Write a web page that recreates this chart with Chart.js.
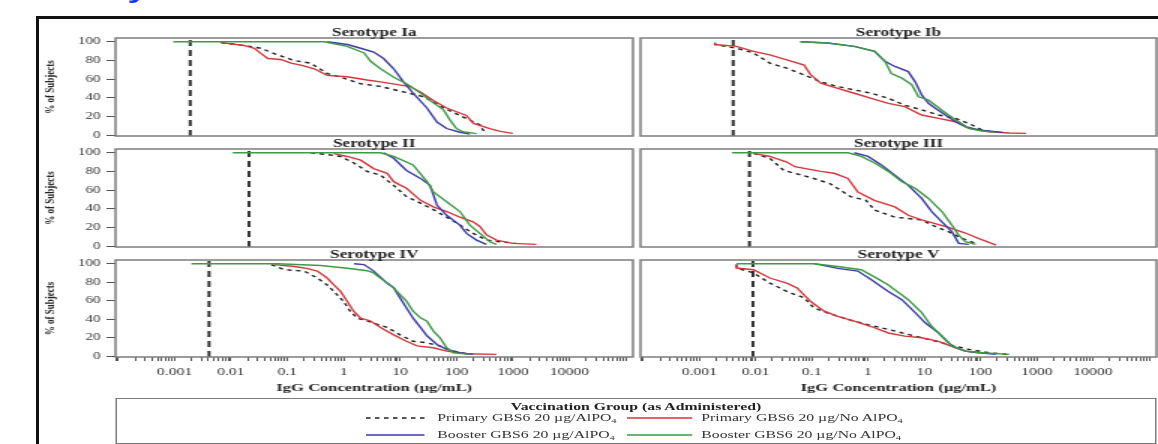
<!DOCTYPE html>
<html lang="en">
<head>
<meta charset="utf-8">
<title>Reverse cumulative distribution of IgG concentrations by serotype</title>
<script src="https://cdn.jsdelivr.net/npm/chart.js@4.4.1/dist/chart.umd.min.js"></script>
<style>
  html, body { margin: 0; padding: 0; background: #fff; }
  body { width: 1158px; height: 444px; overflow: hidden; position: relative; }
  /* the source figure is stretched sideways: lay out at 772px and widen 1.5x */
  #stage { position: absolute; left: 0; top: 0; width: 772px; height: 444px;
           transform: scaleX(1.5); transform-origin: 0 0;
           font-family: 'Liberation Serif', 'Times New Roman', serif; color: #222; }
  #cut { position: absolute; left: 85px; top: -22px; font: bold 24px/24px 'Liberation Sans', Arial, sans-serif;
         color: #1a33ff; }
  #frame { position: absolute; left: 24px; top: 16px; width: 800px; height: 500px;
           border-top: 3px solid #111; border-left: 2.5px solid #111; }
  #stage canvas { position: absolute; }
  #legend { position: absolute; left: 77px; top: 398px; width: 694px; height: 46px;
            border: 1.5px solid #7a7a7a; box-sizing: border-box; font-size: 10.5px; line-height: 12px; }
  #legend .ttl { position: absolute; left: 0; right: 0; text-align: center; font-weight: bold; }
  #legend .item { position: absolute; white-space: nowrap; color: #333; }
  #legend svg { position: absolute; overflow: visible; }
  #legend sub { font-size: 7px; line-height: 0; vertical-align: -2px; }
</style>
</head>
<body>
<div id="stage">
  <div id="cut">y</div>
  <div id="frame"></div>
  <div id="legend"></div>
</div>
<script>
// ---- data ----
const serotypes = ['Serotype Ia', 'Serotype Ib', 'Serotype II', 'Serotype III', 'Serotype IV', 'Serotype V'];
const groupNames = ['Primary GBS6 20 µg/AlPO₄', 'Primary GBS6 20 µg/No AlPO₄',
                    'Booster GBS6 20 µg/AlPO₄', 'Booster GBS6 20 µg/No AlPO₄'];
const legendTitle = 'Vaccination Group (as Administered)';
const xTitle = 'IgG Concentration (µg/mL)';
const yTitle = '% of Subjects';
const xTickValues = [0.001, 0.01, 0.1, 1, 10, 100, 1000, 10000];
const xTickLabels = ['0.001', '0.01', '0.1', '1', '10', '100', '1000', '10000'];
const yTicks = [0, 20, 40, 60, 80, 100];
// lower limit of quantitation per serotype (vertical dashed line)
const lloq = [0.0019, 0.004, 0.021, 0.0078, 0.0041, 0.009];

// [concentration, % of subjects]
const iaPrimAl = [[0.0067,99],[0.017,96],[0.034,93],[0.067,86],[0.13,80],[0.26,77],[0.51,66],[1.0,61],[2.0,55],[4.5,52],[12,46],[23,42],[34,37.5],[60,29],[115,21],[260,11],[300,5],[330,1.5]];
const iaPrimNo = [[0.0067,99],[0.017,96],[0.026,93],[0.034,87.5],[0.045,82],[0.077,81],[0.116,77],[0.174,75],[0.30,71],[0.51,64],[1.16,62.5],[2.6,59],[4.5,57],[15,52],[23,46],[39,37],[67,29],[150,21],[200,12.5],[390,7],[600,4],[1000,1.8]];
const iaBoostAl = [[0.51,100],[1.16,97],[2.0,93],[3.4,89],[5.1,82],[7.7,71],[11.5,57],[17,45],[30,29],[45,14],[67,7],[115,3],[173,1]];
const iaBoostNo = [[0.00095,100],[0.45,100],[1.15,95],[2.3,88],[3.0,79],[4.5,71],[7.7,62],[13,55],[23,45],[34,37],[59,27],[77,16],[100,7],[130,3.6],[227,1.5]];

const ibPrimAl = [[0.0019,99],[0.0019,97],[0.0046,93],[0.0092,88],[0.018,77],[0.036,71.7],[0.073,64.5],[0.145,57],[0.29,52],[0.57,48.4],[1.14,44.8],[2.3,39.4],[4.5,32],[9.0,27],[18,21.5],[36,17.9],[71,10.8],[108,5.4],[187,2.9]];
const ibPrimNo = [[0.0019,99],[0.0019,97],[0.0046,95],[0.0092,89.6],[0.018,86],[0.036,80.6],[0.073,75],[0.096,64.5],[0.145,55.6],[0.29,50],[0.57,44.8],[1.14,39.4],[2.3,34],[4.5,30.5],[9.0,21.5],[18,17.9],[36,14.3],[62,7.2],[142,3.6],[325,2.2],[647,1.8]];
const ibBoostAl = [[0.063,100],[0.19,98.6],[0.57,95],[1.31,89.6],[2.0,79],[3.0,73.5],[5.2,68],[6.9,57],[9.0,43],[11.9,34],[15.7,28.7],[23.7,21.5],[36,14.3],[54,9],[94,5.4],[247,2.9]];
const ibBoostNo = [[0.063,100],[0.19,98.6],[0.57,95],[1.31,89.6],[2.0,79],[2.6,66],[4.0,61],[6.0,54],[7.9,41],[11.9,37.6],[15.7,32],[27,21.5],[41,14.3],[62,7.2],[108,4.3],[187,2.9]];

const iiPrimAl = [[0.26,100],[0.51,98],[0.88,96],[1.52,89],[2.6,80],[4.5,76],[7.7,65],[13,53],[23,46],[39,39],[67,31],[115,22.5],[198,13.6],[340,6.4],[587,4.6],[1150,2.9]];
const iiPrimNo = [[0.67,99],[1.16,96],[2.0,92],[3.4,83],[5.9,78],[7.7,69],[13,62],[23,49],[39,42],[67,37],[115,31],[198,26],[260,21],[340,12],[512,6.4],[1000,2.9],[2600,1.8]];
const iiBoostAl = [[5.1,100],[7.7,94],[13,81],[23,72.5],[34,65],[45,44],[67,33],[115,22.5],[151,13.6],[227,6.4],[340,1.8]];
const iiBoostNo = [[0.0108,100],[4.5,100],[7.7,96],[17,87],[30,69],[39,58],[67,47.5],[115,37],[173,22.5],[260,13.6],[390,4.6],[512,1.8]];

const iiiPrimAl = [[0.0092,99.3],[0.018,94],[0.032,81],[0.088,74],[0.21,67],[0.49,53],[0.92,49],[1.31,38.6],[3.0,31],[9.0,28],[15.7,21],[27,15.4],[47,8.2],[82,2.9]];
const iiiPrimNo = [[0.0092,99.3],[0.018,96],[0.036,90],[0.05,85],[0.145,80],[0.25,78],[0.44,72.5],[0.66,58],[1.3,49],[3.0,42],[5.2,33],[9.0,28],[15.7,24],[27,20],[54,14],[94,8],[142,4],[190,1.1]];
const iiiBoostAl = [[0.57,100],[1.0,96],[1.73,87],[3.0,76],[5.2,65],[9.0,51],[13.6,37],[20.6,26],[31,15.4],[41,2.9],[62,1.8]];
const iiiBoostNo = [[0.0038,100],[0.44,100],[0.76,96],[1.31,89],[2.3,80],[4.0,69],[6.9,62],[11.9,51],[20.6,37],[31,22.5],[41,11.8],[54,4.6],[82,1.8]];

const ivPrimAl = [[0.052,99],[0.088,93.5],[0.20,92],[0.34,84.5],[0.51,77],[0.67,70],[1.0,59],[1.3,48.6],[1.75,41],[2.6,38],[5.9,31],[10,23],[17,16],[30,14.4],[51,10.8],[88,5.4],[151,2.5]];
const ivPrimNo = [[0.059,99],[0.133,97],[0.22,95],[0.34,92],[0.51,84.5],[0.67,77],[0.88,70],[1.16,59],[1.5,48.6],[2.0,41],[3.0,38],[4.5,31],[7.7,23],[13,16],[20,11],[39,9],[67,5.4],[151,2.5],[512,1.8]];
const ivBoostAl = [[1.52,100],[2.3,99],[3.4,92],[5.9,79],[7.7,74],[10,63],[13,52],[17,41],[23,31],[30,22],[45,12.6],[67,7.2],[115,3.6],[198,1.8]];
const ivBoostNo = [[0.002,100],[0.067,100],[0.39,98],[1.16,95],[2.6,92.4],[3.4,90],[5.9,79],[7.7,73.7],[10,66.5],[13,59.4],[17,48.6],[23,41.4],[30,37.8],[39,27],[51,19.8],[67,9],[88,3.6],[173,1.8]];

const vPrimAl = [[0.0046,99],[0.0046,95.3],[0.0092,90],[0.018,79],[0.036,70],[0.073,63],[0.11,52],[0.19,46.8],[0.44,39.6],[1.0,34],[2.3,28.8],[5.2,23.4],[11.9,18],[27,12.6],[62,7.2],[142,3.6],[325,1.8]];
const vPrimNo = [[0.0046,99],[0.0046,95.3],[0.0092,93.5],[0.018,84.5],[0.036,79],[0.055,73.7],[0.096,59],[0.166,48.6],[0.29,43],[0.57,37.8],[1.14,32],[2.3,25],[4.5,21.6],[9.0,19.8],[18,16],[36,9],[54,5.4],[94,3.6]];
const vBoostAl = [[0.11,100],[0.29,95],[0.66,92],[1.13,83],[2.3,70],[4.0,61],[6.9,47],[10.4,36],[18,25],[31,11],[54,5.4],[94,3.6],[187,1.8]];
const vBoostNo = [[0.0046,100],[0.11,100],[0.29,97],[0.76,93.5],[1.56,83],[2.3,77],[5.2,61],[9.0,47],[13.6,32],[18,25],[31,11],[54,5.4],[108,3.6],[325,1.8]];

const panelSeries = [
  [iaPrimAl, iaPrimNo, iaBoostAl, iaBoostNo],
  [ibPrimAl, ibPrimNo, ibBoostAl, ibBoostNo],
  [iiPrimAl, iiPrimNo, iiBoostAl, iiBoostNo],
  [iiiPrimAl, iiiPrimNo, iiiBoostAl, iiiBoostNo],
  [ivPrimAl, ivPrimNo, ivBoostAl, ivBoostNo],
  [vPrimAl, vPrimNo, vBoostAl, vBoostNo]
];

// ---- styles & layout ----
const lineStyles = [
  { color: '#222222', dash: [3, 3], width: 1.4 },
  { color: '#d5383c', dash: [], width: 1.4 },
  { color: '#3b3ba8', dash: [], width: 1.4 },
  { color: '#3d9a45', dash: [], width: 1.4 }
];
const X_MIN = 0.00009, X_MAX = 135000, Y_MIN = -1, Y_MAX = 104;
const cols = [
  { left: 28, width: 396, padL: 0, padR: 2, yAxis: true },
  { left: 424, width: 348, padL: 3, padR: 1, yAxis: false }
];
const rows = [
  { top: 20, height: 125, padT: 18, padB: 9, xAxis: false },
  { top: 138, height: 118, padT: 11, padB: 9, xAxis: false },
  { top: 249, height: 147, padT: 11, padB: 0, xAxis: true }
];

Chart.defaults.font.family = "'Liberation Serif', 'Times New Roman', serif";
Chart.defaults.color = '#222';

function zeroPad(s) {
  s.paddingLeft = 0; s.paddingRight = 0; s.paddingTop = 0; s.paddingBottom = 0;
}

// every 1..9 x 10^n as a tick, labels only on the listed decades
function logTicks() {
  const out = [];
  for (let e = -5; e <= 6; e++) {
    for (let k = 1; k <= 9; k++) {
      const v = k * Math.pow(10, e);
      if (v < X_MIN || v > X_MAX) continue;
      const i = xTickValues.findIndex(t => Math.abs(t - v) / t < 1e-9);
      out.push({ value: v, lbl: i >= 0 ? xTickLabels[i] : '' });
    }
  }
  return out;
}

// grey box round the plot area + serotype caption above it
const panelFrame = {
  id: 'panelFrame',
  afterDatasetsDraw(chart, args, opts) {
    const { ctx, chartArea: a } = chart;
    ctx.save();
    ctx.strokeStyle = '#7d7d7d';
    ctx.lineWidth = 1.5;
    ctx.strokeRect(a.left, a.top, a.right - a.left, a.bottom - a.top);
    ctx.fillStyle = '#222';
    ctx.font = "bold 11.5px 'Liberation Serif', serif";
    ctx.textAlign = 'center';
    ctx.textBaseline = 'alphabetic';
    ctx.fillText(opts.title, (a.left + a.right) / 2, a.top - 2);
    ctx.restore();
  }
};

const stage = document.getElementById('stage');

serotypes.forEach((name, i) => {
  const col = cols[i % 2];
  const row = rows[Math.floor(i / 2)];
  const cv = document.createElement('canvas');
  cv.width = col.width;
  cv.height = row.height;
  cv.style.left = col.left + 'px';
  cv.style.top = row.top + 'px';
  stage.appendChild(cv);

  const datasets = panelSeries[i].map((pts, k) => ({
    data: pts.map(p => ({ x: p[0], y: p[1] })),
    showLine: true,
    pointRadius: 0,
    borderColor: lineStyles[k].color,
    borderWidth: lineStyles[k].width,
    borderDash: lineStyles[k].dash,
    order: 4 - k
  }));
  datasets.push({
    data: [{ x: lloq[i], y: Y_MIN }, { x: lloq[i], y: Y_MAX }],
    showLine: true,
    pointRadius: 0,
    borderColor: '#333',
    borderWidth: 2,
    borderDash: [6, 4],
    order: 10
  });

  new Chart(cv, {
    type: 'scatter',
    data: { datasets },
    options: {
      responsive: false,
      animation: false,
      events: [],
      layout: { padding: { left: col.padL, right: col.padR, top: row.padT, bottom: row.padB } },
      plugins: {
        legend: { display: false },
        tooltip: { enabled: false },
        panelFrame: { title: name }
      },
      scales: {
        x: {
          type: 'logarithmic',
          min: X_MIN,
          max: X_MAX,
          display: row.xAxis,
          afterBuildTicks: s => { s.ticks = logTicks(); },
          afterFit: s => { s.height = row.xAxis ? 39 : 0; zeroPad(s); },
          ticks: {
            autoSkip: false, maxRotation: 0, minRotation: 0, padding: 5,
            font: { size: 10.5 }, color: '#333',
            callback: (v, idx, ticks) => ticks[idx].lbl
          },
          grid: { drawOnChartArea: false, drawTicks: true, tickLength: 4, color: '#555' },
          border: { display: false },
          title: {
            display: true, text: xTitle, color: '#222',
            font: { size: 11, weight: 'bold' }, padding: { top: 0, bottom: 1 }
          }
        },
        y: {
          type: 'linear',
          min: Y_MIN,
          max: Y_MAX,
          display: col.yAxis,
          afterBuildTicks: s => { s.ticks = yTicks.map(v => ({ value: v })); },
          afterFit: s => { s.width = col.yAxis ? 49 : 0; zeroPad(s); },
          ticks: { font: { size: 10 }, color: '#333', padding: 4 },
          grid: { drawOnChartArea: false, drawTicks: true, tickLength: 6, color: '#555' },
          border: { display: false },
          title: {
            display: true, text: yTitle, color: '#222',
            font: { size: 9, weight: 'bold' }, padding: { top: 0, bottom: 0 }
          }
        }
      }
    },
    plugins: [panelFrame]
  });
});

// ---- shared legend box under the panels ----
const legendPos = [
  { lineX: 166, lineW: 39, textX: 213.5, y: 18.5 },
  { lineX: 340, lineW: 43.5, textX: 389.5, y: 18.5 },
  { lineX: 166, lineW: 39, textX: 213.5, y: 35.5 },
  { lineX: 340, lineW: 43.5, textX: 389.5, y: 35.5 }
];
const legend = document.getElementById('legend');
let html = `<div class="ttl" style="top:1.5px">${legendTitle}</div>`;
groupNames.forEach((g, k) => {
  const p = legendPos[k], st = lineStyles[k];
  html += `<svg style="left:${p.lineX}px;top:${p.y - 3}px" width="${p.lineW}" height="6">` +
          `<line x1="0" y1="3" x2="${p.lineW}" y2="3" stroke="${st.color}" stroke-width="1.3"` +
          (st.dash.length ? ` stroke-dasharray="${st.dash.join(' ')}"` : '') + `/></svg>`;
  html += `<div class="item" style="left:${p.textX}px;top:${p.y - 6}px">${g.replace('₄', '<sub>4</sub>')}</div>`;
});
legend.innerHTML = html;
</script>
</body>
</html>
